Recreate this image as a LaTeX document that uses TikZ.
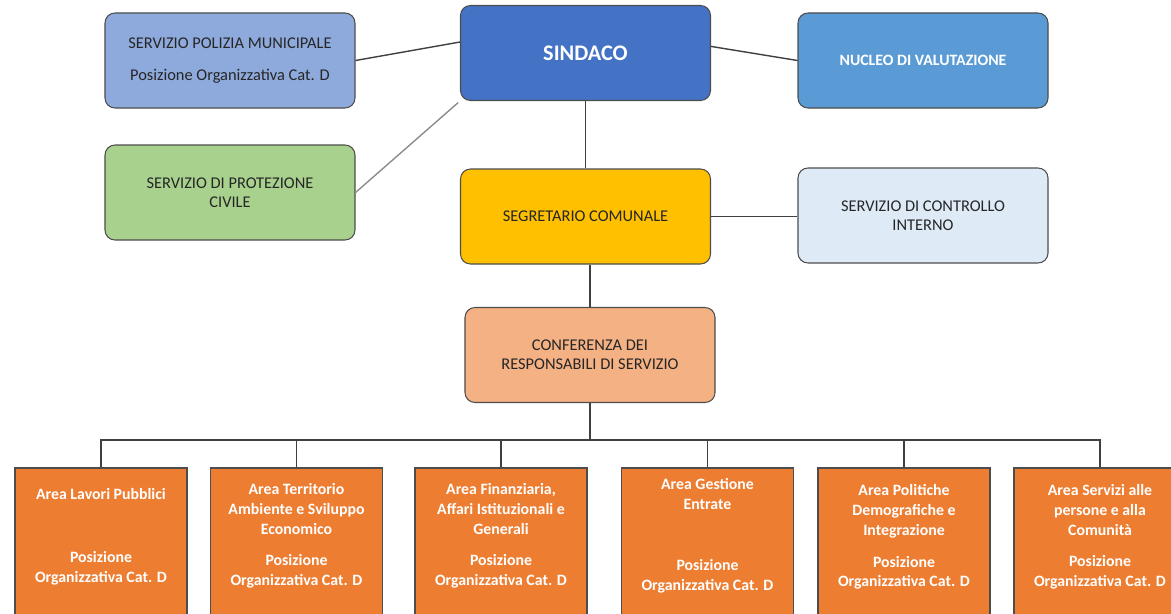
\documentclass[tikz,border=0pt]{standalone}
\usepackage{fontspec}
\setmainfont{Carlito}
\definecolor{polblue}{HTML}{8EA9DB}
\definecolor{sindblue}{HTML}{4472C4}
\definecolor{nucblue}{HTML}{5B9BD5}
\definecolor{protgreen}{HTML}{A9D18E}
\definecolor{segyellow}{HTML}{FFC000}
\definecolor{ctrlblue}{HTML}{DEEBF7}
\definecolor{confpeach}{HTML}{F4B183}
\definecolor{areaorange}{HTML}{ED7D31}
\definecolor{linegray}{HTML}{404040}
\definecolor{edgegray}{HTML}{4D4D4D}
\tikzset{
	topbox/.style={draw=edgegray, line width=0.9pt, rounded corners=0.3cm, minimum width=7.5cm, minimum height=2.85cm, align=center, inner sep=0pt, text=black!85, font=\fontsize{14}{16}\selectfont},
	areabox/.style={draw=edgegray, line width=0.9pt, fill=areaorange, minimum width=5.16cm, minimum height=4.8cm, inner sep=0pt},
	areatxt/.style={align=center, text=white, font=\bfseries\fontsize{13.5}{17}\selectfont},
	link/.style={draw=linegray, line width=1.2pt}
}

\begin{document}
\begin{tikzpicture}[x=0.03cm, y=-0.03cm]
			%%%%% START %%%%%
			\useasboundingbox (0,0) rectangle (1171,613);
			
			\node[topbox, fill=polblue] (polizia) at (230,60.5) {SERVIZIO POLIZIA MUNICIPALE\\[11pt]Posizione Organizzativa Cat. D};
			\node[topbox, fill=sindblue, text=white, font=\bfseries\fontsize{19}{22}\selectfont] (sindaco) at (585.5,53) {SINDACO};
			\node[topbox, fill=nucblue, text=white, font=\bfseries\fontsize{13.5}{16}\selectfont] (nucleo) at (923,60.5) {NUCLEO DI VALUTAZIONE};
			
			\node[topbox, fill=protgreen] (protezione) at (230,192.5) {SERVIZIO DI PROTEZIONE\\CIVILE};
			\node[topbox, fill=segyellow] (segretario) at (585.5,216.5) {SEGRETARIO COMUNALE};
			\node[topbox, fill=ctrlblue] (controllo) at (923,215.5) {SERVIZIO DI CONTROLLO\\INTERNO};
			
			\node[topbox, fill=confpeach] (conferenza) at (590,355) {CONFERENZA DEI\\RESPONSABILI DI SERVIZIO};
			
			\node[areabox] (lavori) at (101,548) {};
			\node[areabox] (territorio) at (296.5,548) {};
			\node[areabox] (finanza) at (501,548) {};
			\node[areabox] (entrate) at (707.5,548) {};
			\node[areabox] (demografia) at (904,548) {};
			\node[areabox] (servizi) at (1100,548) {};
			
			\node[areatxt] (lavoritxt) at (101,537) {Area Lavori Pubblici\\[37pt]Posizione\\Organizzativa Cat. D};
			\node[areatxt] (territoriotxt) at (296.5,536) {Area Territorio\\Ambiente e Sviluppo\\Economico\\[10pt]Posizione\\Organizzativa Cat. D};
			\node[areatxt] (finanzatxt) at (501,536) {Area Finanziaria,\\Affari Istituzionali e\\Generali\\[10pt]Posizione\\Organizzativa Cat. D};
			\node[areatxt] (entratetxt) at (707.5,536) {Area Gestione\\Entrate\\[35pt]Posizione\\Organizzativa Cat. D};
			\node[areatxt] (demografiatxt) at (904,537) {Area Politiche\\Demografiche e\\Integrazione\\[10pt]Posizione\\Organizzativa Cat. D};
			\node[areatxt] (servizitxt) at (1100,537) {Area Servizi alle\\persone e alla\\Comunità\\[10pt]Posizione\\Organizzativa Cat. D};
			
			\coordinate (bus) at (0,440);
			\draw[link] (polizia.east) -- (sindaco.175);
			\draw[link] (sindaco.3) -- (nucleo.west);
			\draw[link, draw=black!45, shorten >=2pt] (protezione.east) -- (sindaco.south west);
			\draw[link] (sindaco.south) -- (segretario.north);
			\draw[link] (segretario.east) -- (segretario.east -| controllo.west);
			\draw[link] (conferenza.north |- segretario.south) -- (conferenza.north);
			\draw[link] (conferenza.south) -- (conferenza.south |- bus);
			
			\draw[link] (lavori.north) |- (servizi.north |- bus) -- (servizi.north);
			\draw[link] (territorio.north) -- (territorio.north |- bus);
			\draw[link] (finanza.north) -- (finanza.north |- bus);
			\draw[link] (entrate.north) -- (entrate.north |- bus);
			\draw[link] (demografia.north) -- (demografia.north |- bus);
			%%%%% END %%%%%
		\end{tikzpicture}
\end{document}
